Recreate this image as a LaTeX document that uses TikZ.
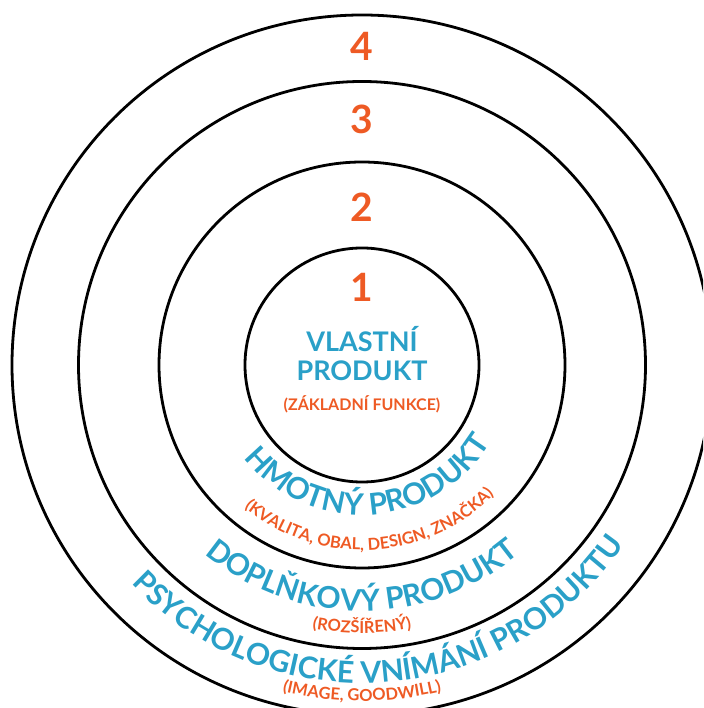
\documentclass[tikz,border=0pt]{standalone}
\usepackage{fontspec}
\setmainfont{Lato}
\usepackage{tikz}
\usetikzlibrary{decorations.text}

\definecolor{pblue}{RGB}{42,160,200}
\definecolor{porange}{RGB}{238,90,36}

\tikzset{
    ring/.style={draw=black, line width=2.8pt, circle, inner sep=0pt},
    levelnum/.style={text=porange, font=\bfseries\fontsize{39}{39}\selectfont},
    coretitle/.style={text=pblue, font=\bfseries\fontsize{27}{27}\selectfont, anchor=base},
    corenote/.style={text=porange, font=\bfseries\fontsize{16}{16}\selectfont, anchor=base},
    arctitle/.style={decorate, decoration={text along path, text align=center,
        text color=pblue, text={|\bfseries\fontsize{30}{30}\selectfont|#1}}},
    arcnote/.style={decorate, decoration={text along path, text align=center,
        text color=porange, text={|\bfseries\fontsize{16.5}{16.5}\selectfont|#1}}}
}

\begin{document}
\begin{tikzpicture}[x=1pt, y=1pt]
    \useasboundingbox (-362,-343) rectangle (341,365);
    \clip (-362,-343) rectangle (341,365);

    % the four rings
    \foreach \r/\n in {117/c1, 203/c2, 283.5/c3, 350/c4}{
        \node[ring, minimum size=2*\r pt] (\n) at (0,0) {};
    }

    % level numbers
    \foreach \y/\k in {78/1, 158/2, 246/3, 319/4}{
        \node[levelnum] (n\k) at (0,\y) {\k};
    }

    % core
    \node[coretitle] (vlastni) at (0,13) {VLASTNÍ};
    \node[coretitle] (produkt) at (0,-16) {PRODUKT};
    \node[corenote] (funkce) at (0,-46) {(ZÁKLADNÍ FUNKCE)};

    % curved labels along the rings
    \path[arctitle={HMOTNÝ PRODUKT}] (203.5:150) arc[start angle=203.5, end angle=343.5, radius=150];
    \path[arcnote={(KVALITA, OBAL, DESIGN, ZNAČKA)}] (198:185) arc[start angle=198, end angle=348, radius=185];
    \path[arctitle={DOPLŇKOVÝ PRODUKT}] (200:246) arc[start angle=200, end angle=340, radius=246];
    \path[arcnote={(ROZŠÍŘENÝ)}] (220:268) arc[start angle=220, end angle=320, radius=268];
    \path[arctitle={PSYCHOLOGICKÉ VNÍMÁNÍ PRODUKTU}] (200:318) arc[start angle=200, end angle=349, radius=318];
    \path[arcnote={(IMAGE, GOODWILL)}] (220:336) arc[start angle=220, end angle=320, radius=336];
\end{tikzpicture}
\end{document}
